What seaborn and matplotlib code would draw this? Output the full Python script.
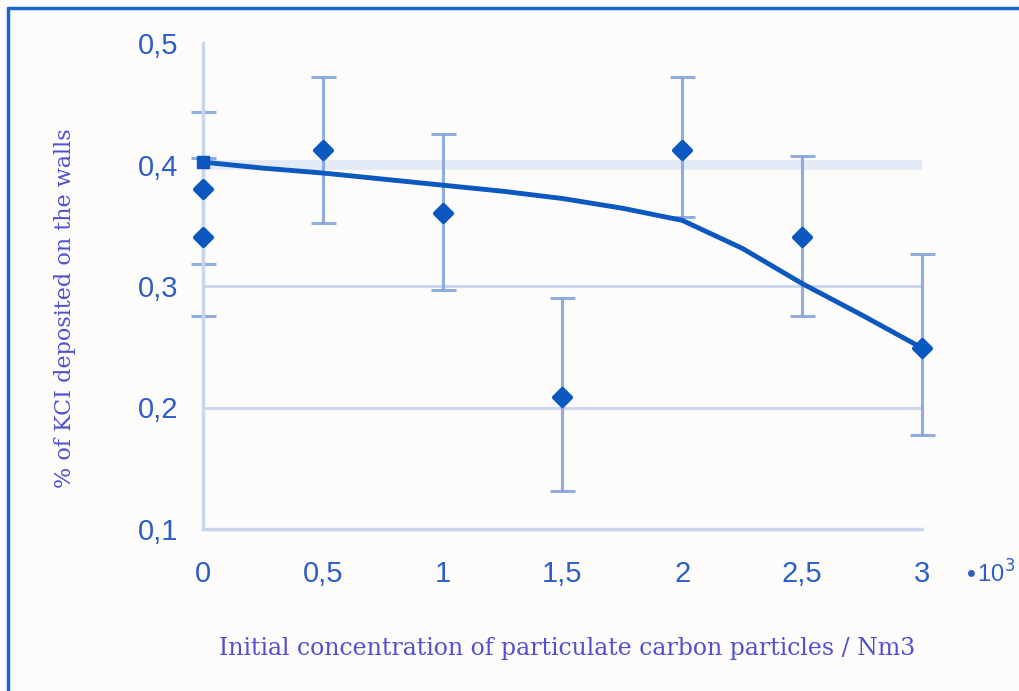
import matplotlib
matplotlib.use("Agg")
import matplotlib.pyplot as plt
import seaborn as sns
import pandas as pd
from matplotlib.lines import Line2D

# ---- data ----
conc = [0, 0, 0.5, 1, 1.5, 2, 2.5, 3]
kcl = [0.38, 0.34, 0.412, 0.36, 0.209, 0.412, 0.34, 0.249]
err_lo = [0.062, 0.065, 0.06, 0.063, 0.078, 0.055, 0.065, 0.072]
err_hi = [0.063, 0.065, 0.06, 0.065, 0.081, 0.06, 0.067, 0.077]

fit_x = [0, 0.25, 0.5, 0.75, 1, 1.25, 1.5, 1.75, 2, 2.25, 2.5, 2.75, 3]
fit_y = [0.402, 0.397, 0.393, 0.388, 0.383, 0.378, 0.372, 0.364, 0.354, 0.331, 0.302, 0.276, 0.249]

x_ticks = [0, 0.5, 1, 1.5, 2, 2.5, 3]
x_labels = ["0", "0,5", "1", "1,5", "2", "2,5", "3"]
y_ticks = [0.1, 0.2, 0.3, 0.4, 0.5]
y_labels = ["0,1", "0,2", "0,3", "0,4", "0,5"]

xlabel = "Initial concentration of particulate carbon particles / Nm3"
ylabel = "% of KCI deposited on the walls"

sns.set_style("white")
plt.rcParams['font.family'] = ['Liberation Sans', 'DejaVu Sans']

BG = "#fdfcfa"
DARK = "#0a58c0"
LIGHT = "#c9d5ef"
ERR = "#7d9fdc"
TICKC = "#2c5ec8"
LABC = "#5050d0"

fig = plt.figure(figsize=(10.2, 6.91), dpi=100, facecolor=BG)
ax = fig.add_axes([203/1020, 1-529/691, (922-203)/1020, (529-43)/691])
ax.set_facecolor(BG)

ax.set_xlim(0, 3)
ax.set_ylim(0.1, 0.5)

# gridlines
ax.axhline(0.4, color="#e4e9f6", lw=7, zorder=1)
for g in [0.2, 0.3]:
    ax.axhline(g, color=LIGHT, lw=2, zorder=1)

# error bars
ax.errorbar(conc, kcl, yerr=[err_lo, err_hi], fmt="none", ecolor=ERR,
            elinewidth=2.2, capsize=9, capthick=2.2, alpha=0.85,
            zorder=2, clip_on=False)

# fitted curve
df_fit = pd.DataFrame({"x": fit_x, "y": fit_y})
sns.lineplot(data=df_fit, x="x", y="y", ax=ax, color=DARK, lw=3.5,
             zorder=4, clip_on=False)
ax.plot(fit_x[:1], fit_y[:1], marker="s", ms=9, color=DARK, zorder=5, clip_on=False)

# data points
df = pd.DataFrame({"x": conc, "y": kcl})
sns.scatterplot(data=df, x="x", y="y", ax=ax, marker="D", s=75,
                color=DARK, edgecolor=DARK, linewidth=3, zorder=5,
                clip_on=False)

# spines
for s in ["top", "right"]:
    ax.spines[s].set_visible(False)
for s in ["left", "bottom"]:
    ax.spines[s].set_color(LIGHT)
    ax.spines[s].set_linewidth(2.5)

ax.set_xticks(x_ticks)
ax.set_xticklabels(x_labels)
ax.set_yticks(y_ticks)
ax.set_yticklabels(y_labels)
ax.tick_params(axis="both", colors=LIGHT, width=2.5, length=8,
               labelsize=21, labelcolor=TICKC, pad=14)
ax.tick_params(axis="y", pad=10)

ax.set_xlabel("")
ax.set_ylabel("")

fig.text(567/1020, 1-648/691, xlabel, family=["DejaVu Serif"], fontsize=17,
         color=LABC, ha="center", va="center")
fig.text(65/1020, 1-308/691, ylabel, family=["DejaVu Serif"], fontsize=16,
         color=LABC, ha="center", va="center", rotation=90)
fig.text(963/1020, 1-574/691, r"$\bullet$10$^3$", fontsize=17, color=TICKC,
         ha="left", va="center")

# frame border (top and left)
fig.add_artist(Line2D([8/1020, 8/1020], [0, 1-8/691], color="#1a66d0", lw=2.5))
fig.add_artist(Line2D([8/1020, 1], [1-8/691, 1-8/691], color="#1a66d0", lw=2.5))

fig.savefig("out.png", dpi=100, facecolor=BG)
